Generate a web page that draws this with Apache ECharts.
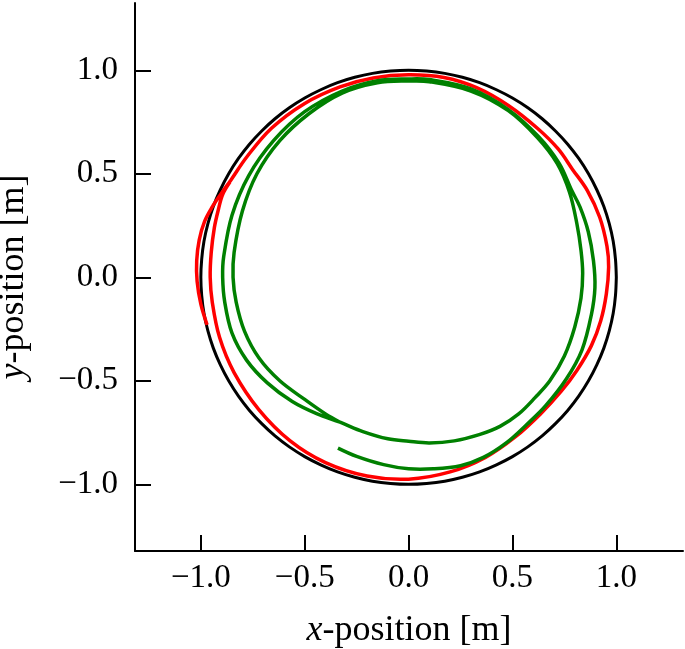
<!DOCTYPE html>
<html>
<head>
<meta charset="utf-8">
<script src="https://cdn.jsdelivr.net/npm/echarts@6/dist/echarts.min.js"></script>
<style>html,body{margin:0;padding:0;background:#fff;}#c{width:685px;height:649px;}</style>
</head>
<body>
<div id="c"></div>
<script>
// Reference path (unit circle), every 5 degrees
var blackX = [1.000,0.996,0.985,0.966,0.940,0.906,0.866,0.819,0.766,0.707,0.643,0.574,0.500,0.423,0.342,0.259,0.174,0.087,0.000,
  -0.087,-0.174,-0.259,-0.342,-0.423,-0.500,-0.574,-0.643,-0.707,-0.766,-0.819,-0.866,-0.906,-0.940,-0.966,-0.985,-0.996,-1.000,
  -0.996,-0.985,-0.966,-0.940,-0.906,-0.866,-0.819,-0.766,-0.707,-0.643,-0.574,-0.500,-0.423,-0.342,-0.259,-0.174,-0.087,0.000,
  0.087,0.174,0.259,0.342,0.423,0.500,0.574,0.643,0.707,0.766,0.819,0.866,0.906,0.940,0.966,0.985,0.996,1.000];
var blackY = [0.000,0.087,0.174,0.259,0.342,0.423,0.500,0.574,0.643,0.707,0.766,0.819,0.866,0.906,0.940,0.966,0.985,0.996,1.000,
  0.996,0.985,0.966,0.940,0.906,0.866,0.819,0.766,0.707,0.643,0.574,0.500,0.423,0.342,0.259,0.174,0.087,0.000,
  -0.087,-0.174,-0.259,-0.342,-0.423,-0.500,-0.574,-0.643,-0.707,-0.766,-0.819,-0.866,-0.906,-0.940,-0.966,-0.985,-0.996,-1.000,
  -0.996,-0.985,-0.966,-0.940,-0.906,-0.866,-0.819,-0.766,-0.707,-0.643,-0.574,-0.500,-0.423,-0.342,-0.259,-0.174,-0.087,0.000];

// Red trajectory
var redX = [-0.97,-1.0,-1.018,-1.02,-1.008,-0.982,-0.945,-0.905,-0.855,-0.78,-0.66,-0.50,-0.33,-0.17,0.0,0.17,0.33,0.48,0.62,0.72,0.79,0.86,0.92,0.955,0.963,0.952,0.925,0.88,0.81,0.735,0.635,0.515,0.37,0.20,0.0,-0.20,-0.40,-0.57,-0.72,-0.84,-0.91,-0.945,-0.955,-0.95,-0.935,-0.915,-0.895,-0.86];
var redY = [-0.23,-0.13,-0.02,0.08,0.18,0.27,0.34,0.40,0.47,0.58,0.72,0.84,0.92,0.963,0.978,0.965,0.915,0.83,0.72,0.62,0.52,0.42,0.29,0.15,0.05,-0.08,-0.21,-0.33,-0.45,-0.55,-0.66,-0.77,-0.87,-0.94,-0.975,-0.96,-0.895,-0.79,-0.64,-0.46,-0.29,-0.12,0.0,0.12,0.24,0.33,0.40,0.46];

// Green trajectory
var greenX = [-0.34,-0.25,-0.12,0.0,0.12,0.25,0.36,0.47,0.57,0.66,0.76,0.835,0.88,0.897,0.89,0.865,0.825,0.785,0.725,0.625,0.48,0.30,0.10,0.0,-0.15,-0.32,-0.50,-0.65,-0.77,-0.85,-0.89,-0.895,-0.885,-0.85,-0.78,-0.68,-0.56,-0.44,-0.33,
  -0.22,-0.10,0.0,0.10,0.22,0.34,0.44,0.53,0.61,0.68,0.75,0.80,0.83,0.838,0.83,0.81,0.775,0.715,0.62,0.48,0.30,0.10,0.0,-0.15,-0.32,-0.48,-0.62,-0.73,-0.80,-0.84,-0.845,-0.83,-0.79,-0.72,-0.62,-0.50,-0.40,-0.33];
var greenY = [-0.825,-0.865,-0.905,-0.925,-0.925,-0.91,-0.87,-0.80,-0.71,-0.62,-0.49,-0.35,-0.18,-0.05,0.08,0.22,0.34,0.42,0.55,0.68,0.81,0.91,0.955,0.958,0.95,0.90,0.80,0.66,0.49,0.30,0.10,0.0,-0.12,-0.27,-0.40,-0.51,-0.60,-0.66,-0.70,
  -0.745,-0.78,-0.792,-0.80,-0.79,-0.76,-0.72,-0.66,-0.58,-0.50,-0.38,-0.24,-0.10,0.02,0.13,0.26,0.41,0.55,0.675,0.805,0.90,0.945,0.948,0.94,0.89,0.79,0.66,0.50,0.32,0.12,0.0,-0.12,-0.26,-0.39,-0.50,-0.59,-0.66,-0.70];

var xTicks = [-1.0,-0.5,0.0,0.5,1.0];
var yTicks = [-1.0,-0.5,0.0,0.5,1.0];

function pairs(xs, ys){ var o=[]; for(var i=0;i<xs.length;i++) o.push([xs[i],ys[i]]); return o; }
function fmt(v){ return (v < -1e-9 ? '\u2212' : '') + Math.abs(v).toFixed(1); }

// A smooth path through the data points, placed with the cartesian axes (api.coord)
function pathSeries(name, xs, ys, color, width, z){
  return {
    type: 'custom', name: name, coordinateSystem: 'cartesian2d',
    data: pairs(xs, ys), encode: {x: 0, y: 1}, z: z, silent: true,
    renderItem: function(params, api){
      if (params.dataIndex !== 0) return null;
      var pts = [];
      for (var i = 0; i < xs.length; i++) pts.push(api.coord([xs[i], ys[i]]));
      return {
        type: 'polyline',
        shape: {points: pts, smooth: 0.35},
        style: {stroke: color, lineWidth: width, fill: null, lineJoin: 'round', lineCap: 'butt'}
      };
    }
  };
}

var FONT = 'Liberation Serif';
var axisCommon = {
  type: 'value',
  splitLine: {show:false},
  axisLine: {show:true, onZero:false, lineStyle:{color:'#000', width:2}},
  axisTick: {show:true, inside:true, length:16, lineStyle:{color:'#000', width:2}},
  axisLabel: {color:'#000', fontFamily:FONT, fontSize:33, formatter: fmt},
  nameLocation: 'middle',
  nameTextStyle: {color:'#000', fontFamily:FONT, fontSize:36,
    rich: {it: {fontStyle:'italic', fontFamily:FONT, fontSize:36, color:'#000'}}}
};

var chart = echarts.init(document.getElementById('c'), null, {renderer:'canvas'});
chart.setOption({
  animation: false,
  backgroundColor: '#fff',
  grid: {left:135, right:2, top:3, bottom:98, containLabel:false, outerBoundsMode:'none'},
  xAxis: Object.assign({}, axisCommon, {
    min: -1.317, max: 1.321,
    name: '{it|x}-position [m]', nameGap: 62,
    axisTick: Object.assign({}, axisCommon.axisTick, {customValues: xTicks}),
    axisLabel: Object.assign({}, axisCommon.axisLabel, {customValues: xTicks, margin: 11})
  }),
  yAxis: Object.assign({}, axisCommon, {
    min: -1.322, max: 1.325,
    name: '{it|y}-position [m]', nameGap: 103, nameRotate: 90,
    axisTick: Object.assign({}, axisCommon.axisTick, {customValues: yTicks}),
    axisLabel: Object.assign({}, axisCommon.axisLabel, {customValues: yTicks, margin: 17})
  }),
  series: [
    pathSeries('reference', blackX, blackY, '#000000', 3, 2),
    pathSeries('red', redX, redY, '#ff0000', 3.5, 3),
    pathSeries('green', greenX, greenY, '#008000', 3.5, 4)
  ]
});
</script>
</body>
</html>
